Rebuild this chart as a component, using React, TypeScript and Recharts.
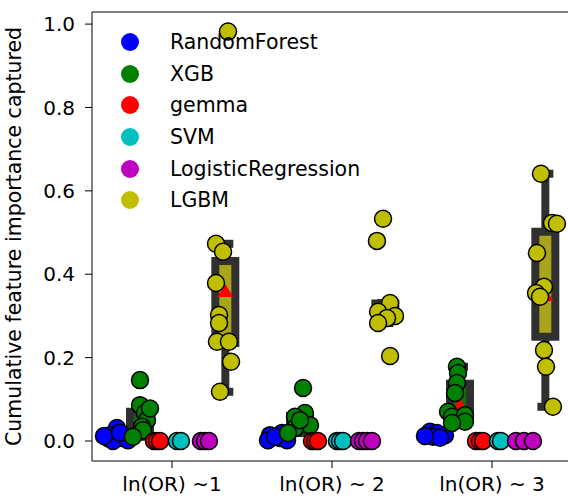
import React from "react";
import {
  ScatterChart,
  Scatter,
  XAxis,
  YAxis,
  ReferenceArea,
  ReferenceLine,
  Legend,
} from "recharts";

// categories on the x axis and the six models (hues)
const categories = ["ln(OR) ~1", "ln(OR) ~ 2", "ln(OR) ~ 3"];
const models = ["RandomForest", "XGB", "gemma", "SVM", "LogisticRegression", "LGBM"];
const modelColors = ["#0000ff", "#008000", "#ff0000", "#00bfbf", "#bf00bf", "#bfbf00"];
const yTicks = [0, 0.2, 0.4, 0.6, 0.8, 1.0];

// strip points as [x position, value]
const randomForestPts = [
  [-0.344, 0.031], [-0.388, 0.014], [-0.4, 0.007], [-0.306, 0.007], [-0.369, 0.0],
  [-0.275, 0.002], [-0.425, 0.012], [-0.325, 0.02],
  [0.6125, 0.014], [0.6, 0.002], [0.6875, 0.019], [0.675, 0.007], [0.719, 0.002], [0.644, 0.01],
  [1.6125, 0.022], [1.656, 0.019], [1.706, 0.014], [1.631, 0.01], [1.675, 0.008], [1.581, 0.012],
];
const xgbPts = [
  [-0.2, 0.146], [-0.2, 0.086], [-0.169, 0.067], [-0.156, 0.05], [-0.1875, 0.034],
  [-0.181, 0.026], [-0.244, 0.01], [-0.1375, 0.078],
  [0.819, 0.127], [0.831, 0.067], [0.769, 0.058], [0.8125, 0.043], [0.8625, 0.038],
  [0.769, 0.031], [0.725, 0.019], [0.8, 0.05],
  [1.781, 0.178], [1.7875, 0.163], [1.781, 0.139], [1.769, 0.115], [1.725, 0.07],
  [1.75, 0.058], [1.831, 0.062], [1.831, 0.046], [1.75, 0.043],
];
const gemmaPts = [
  [-0.1125, 0], [-0.094, 0], [-0.075, 0],
  [0.875, 0], [0.894, 0], [0.9125, 0],
  [1.9, 0], [1.925, 0], [1.944, 0],
];
const svmPts = [
  [0.031, 0], [0.056, 0],
  [1.031, 0], [1.05, 0], [1.069, 0],
  [2.0375, 0], [2.056, 0],
];
const logRegPts = [
  [0.181, 0], [0.206, 0], [0.231, 0],
  [1.169, 0], [1.194, 0], [1.219, 0], [1.25, 0],
  [2.15, 0], [2.2, 0], [2.256, 0],
];
const lgbmPts = [
  [0.35, 0.982], [0.275, 0.473], [0.319, 0.454], [0.275, 0.379], [0.294, 0.302],
  [0.294, 0.283], [0.281, 0.238], [0.356, 0.238], [0.369, 0.19], [0.3, 0.118],
  [1.319, 0.533], [1.281, 0.48], [1.363, 0.331], [1.288, 0.31], [1.394, 0.3],
  [1.344, 0.295], [1.288, 0.283], [1.363, 0.204],
  [2.306, 0.641], [2.375, 0.523], [2.406, 0.521], [2.281, 0.451], [2.325, 0.37],
  [2.275, 0.355], [2.3, 0.346], [2.325, 0.218], [2.3375, 0.178], [2.381, 0.082],
];
const modelPoints = [randomForestPts, xgbPts, gemmaPts, svmPts, logRegPts, lgbmPts];

// box plot summaries (model index, category index)
const boxModel = [1, 1, 1, 5, 5, 5];
const boxCat = [0, 1, 2, 0, 1, 2];
const boxLow = [0.01, 0.019, 0.043, 0.118, 0.283, 0.082];
const boxQ1 = [0.03, 0.035, 0.05, 0.235, 0.29, 0.25];
const boxQ3 = [0.07, 0.06, 0.137, 0.432, 0.33, 0.502];
const boxHigh = [0.086, 0.067, 0.178, 0.473, 0.331, 0.641];
const boxMean = [0.045, 0.05, 0.086, 0.36, 0.33, 0.35];
const boxFill = ["#107010", "#107010", "#107010", "#a8a41c", "#a8a41c", "#a8a41c"];

const hueOffset = (m: number) => -0.4 + 0.8 / 12 + (m * 0.8) / 6;
const boxHalf = 0.0625;
const capHalf = 0.05;
const boxLine = "#303030";
const font = "DejaVu Sans";

const meanData = boxMean.map((v, i) => ({ x: boxCat[i] + hueOffset(boxModel[i]), y: v }));

const Dot = (p: any) => (
  <circle cx={p.cx} cy={p.cy} r={8.5} fill={p.fill} stroke="#000" strokeWidth={1.5} />
);

const MeanMark = (p: any) => (
  <polygon
    points={`${p.cx},${p.cy - 7} ${p.cx - 8},${p.cy + 6} ${p.cx + 8},${p.cy + 6}`}
    fill="#ff0000"
  />
);

// legend keeps the model order (the built-in one sorts by name)
const LegendBox = () => (
  <div style={{ fontFamily: font, fontSize: 20.5, color: "#000" }}>
    {models.map((m, i) => (
      <div key={m} style={{ display: "flex", alignItems: "center", height: 31.7 }}>
        <span
          style={{
            width: 18,
            height: 18,
            borderRadius: "50%",
            background: modelColors[i],
            display: "inline-block",
            marginRight: 31,
          }}
        />
        {m}
      </div>
    ))}
  </div>
);

export default function App() {
  return (
    <div
      style={{
        position: "absolute",
        left: 0,
        top: 0,
        width: 568,
        height: 500,
        overflow: "hidden",
        background: "#fff",
      }}
    >
      <ScatterChart
        width={576}
        height={500}
        margin={{ top: 12, right: 4, bottom: 0, left: 0 }}
      >
        <XAxis
          dataKey="x"
          type="number"
          domain={[-0.5, 2.5]}
          allowDataOverflow
          ticks={[0, 1, 2]}
          tickFormatter={(v) => categories[v]}
          height={39}
          stroke="#000"
          tickSize={7}
          tickMargin={9}
          tick={{ fill: "#000", fontSize: 20, fontFamily: font }}
        />
        <YAxis
          dataKey="y"
          type="number"
          domain={[-0.048, 1.029]}
          allowDataOverflow
          ticks={yTicks}
          tickFormatter={(v) => v.toFixed(1)}
          width={92}
          stroke="#000"
          tickSize={7}
          tickMargin={10}
          tick={{ fill: "#000", fontSize: 20, fontFamily: font }}
          label={{
            value: "Cumulative feature importance captured",
            angle: -90,
            position: "insideLeft",
            offset: 14,
            fill: "#000",
            fontSize: 20.5,
            fontFamily: font,
            style: { textAnchor: "middle" },
          }}
        />
        <ReferenceLine y={1.029} stroke="#000" strokeWidth={1.2} />
        {boxMean.map((_, i) => {
          const cx = boxCat[i] + hueOffset(boxModel[i]);
          return (
            <React.Fragment key={i}>
              <ReferenceLine
                segment={[{ x: cx, y: boxQ3[i] }, { x: cx, y: boxHigh[i] }]}
                stroke={boxLine}
                strokeWidth={8}
              />
              <ReferenceLine
                segment={[{ x: cx, y: boxLow[i] }, { x: cx, y: boxQ1[i] }]}
                stroke={boxLine}
                strokeWidth={8}
              />
              <ReferenceLine
                segment={[{ x: cx - capHalf, y: boxHigh[i] }, { x: cx + capHalf, y: boxHigh[i] }]}
                stroke={boxLine}
                strokeWidth={8}
              />
              <ReferenceLine
                segment={[{ x: cx - capHalf, y: boxLow[i] }, { x: cx + capHalf, y: boxLow[i] }]}
                stroke={boxLine}
                strokeWidth={8}
              />
              <ReferenceArea
                x1={cx - boxHalf}
                x2={cx + boxHalf}
                y1={boxQ1[i]}
                y2={boxQ3[i]}
                fill={boxFill[i]}
                fillOpacity={1}
                stroke={boxLine}
                strokeWidth={8}
              />
            </React.Fragment>
          );
        })}
        <Scatter
          name="mean"
          data={meanData}
          shape={MeanMark}
          legendType="none"
          isAnimationActive={false}
        />
        {models.map((m, i) => (
          <Scatter
            key={m}
            name={m}
            data={modelPoints[i].map(([x, y]) => ({ x, y }))}
            fill={modelColors[i]}
            shape={Dot}
            isAnimationActive={false}
          />
        ))}
        <Legend
          layout="vertical"
          align="center"
          verticalAlign="middle"
          content={<LegendBox />}
          wrapperStyle={{ top: 26, left: 121, width: 300 }}
        />
      </ScatterChart>
    </div>
  );
}
